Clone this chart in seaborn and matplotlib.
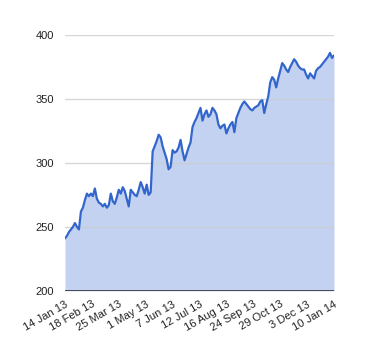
import numpy as np
import pandas as pd
import matplotlib
matplotlib.use("Agg")
import matplotlib.pyplot as plt
import seaborn as sns

# Series values (~every 2 px of the plot)
values = [
    241, 243, 246, 248, 250, 253, 250, 248, 262, 265, 271, 276, 274, 276, 274, 280,
    272, 269, 268, 266, 268, 265, 267, 276, 270, 268, 273, 279, 276, 281, 278, 272,
    266, 279, 277, 275, 274, 279, 285, 281, 276, 283, 275, 277, 309, 313, 317, 322,
    320, 313, 308, 303, 295, 297, 310, 308, 309, 312, 318, 309, 302, 307, 312, 316,
    328, 332, 335, 339, 343, 333, 338, 341, 336, 338, 343, 341, 338, 330, 327, 329,
    330, 323, 327, 330, 332, 324, 335, 339, 343, 346, 348, 346, 344, 342, 341, 343,
    344, 345, 348, 349, 339, 346, 352, 363, 367, 365, 359, 366, 372, 378, 376, 373,
    371, 375, 378, 381, 379, 376, 374, 373, 373, 369, 366, 370, 368, 366, 372, 374,
    375, 377, 379, 381, 383, 386, 382, 384,
]
tick_labels = ["14 Jan 13", "18 Feb 13", "25 Mar 13", "1 May 13", "7 Jun 13",
               "12 Jul 13", "16 Aug 13", "24 Sep 13", "29 Oct 13", "3 Dec 13",
               "10 Jan 14"]
y_ticks = [200, 250, 300, 350, 400]

df = pd.DataFrame({"idx": np.arange(len(values)), "value": values})

sns.set_style("white")
plt.rcParams["font.family"] = ["Liberation Sans", "DejaVu Sans"]

fig = plt.figure(figsize=(3.8, 3.6), dpi=100)
ax = fig.add_axes([0.171, 0.192, 0.708, 0.711])

blue = "#3366CC"
ax.fill_between(df["idx"], 200, df["value"], color="#c3d2f0", linewidth=0, zorder=1)
sns.lineplot(data=df, x="idx", y="value", ax=ax, color=blue, linewidth=1.6, zorder=3)

ax.set_ylim(200, 400)
ax.set_xlim(0, len(values) - 1)
ax.set_yticks(y_ticks)
for v in y_ticks[1:]:
    ax.axhline(v, color="#cccccc", linewidth=1, zorder=2, alpha=0.8)
ax.axhline(200, color="#333333", linewidth=1.2, zorder=4)

ax.set_xticks(np.linspace(0, len(values) - 1, len(tick_labels)))
ax.set_xticklabels(tick_labels, rotation=30, ha="right", rotation_mode="anchor")
ax.tick_params(axis="both", length=0, labelsize=8, colors="#222222")
ax.tick_params(axis="x", pad=6)
ax.tick_params(axis="y", pad=8)
ax.set_xlabel("")
ax.set_ylabel("")
for s in ax.spines.values():
    s.set_visible(False)

fig.savefig("out.png", dpi=100)
